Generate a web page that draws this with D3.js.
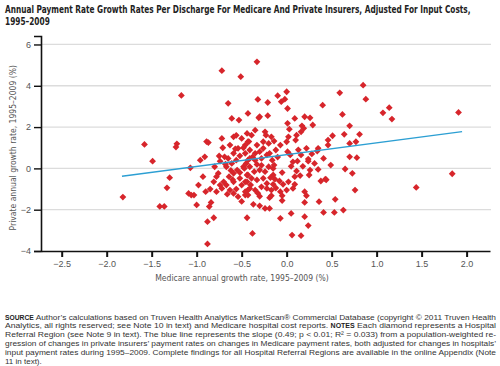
<!DOCTYPE html>
<html>
<head>
<meta charset="utf-8">
<script src="https://cdn.jsdelivr.net/npm/d3@7"></script>
<style>
  body { margin: 0; background: #fff; }
  svg { display: block; }
  text { font-family: "Liberation Sans Narrow", "DejaVu Sans Condensed", "Liberation Sans", sans-serif; }
</style>
</head>
<body>
<div id="chart"></div>
<script>
// Medicare growth (x) vs private growth (y), each point = one Hospital Referral Region
const medicare = [
  -0.72, -0.51, -1.17, -0.65, -0.61, -0.53, -0.43, -1.58, -1.22, -1.23,
  -0.89, -0.87, -1.49, -1.82, -1.30, -1.33, -1.41, -1.36, -1.07, -0.96,
  -0.91, -1.09, -1.06, -1.03, -1.00, -0.98, -0.93, -0.88, -0.88, -0.81,
  -0.86, -0.84, -0.90, -0.85, -0.81, -0.76, -0.74, -0.71, -0.72, -0.69,
  -0.63, -0.59, -0.56, -0.50, -0.44, -0.43, -0.46, -0.54, -0.59, -0.65,
  -0.67, -0.61, -0.56, -0.52, -0.46, -0.43, -0.48, -0.55, -0.59, -0.64,
  -0.70, -0.74, -0.72, -0.67, -0.63, -0.59, -0.54, -0.56, -0.50, -0.44,
  -0.43, -0.46, -0.52, -0.44, -0.44, -0.59, -0.78, -0.80,
  -0.33, 0.85, 0.88, 0.59, 0.40, -0.32, -0.21, -0.10, -0.06, 0.00,
  -0.02, 0.01, -0.31, -0.30, -0.21, 0.01, 0.09, 0.20, 0.26, 0.29,
  0.17, 0.62, 0.70, 0.64, 0.81, 1.07, 1.14, 1.17, 1.91, 1.84,
  1.44, 0.77, 0.70, 0.70, 0.78, 0.65, 0.73, 0.76, 0.63, 0.54,
  0.53, 0.41, 0.36, 0.38, 0.43, 0.44, 0.49, 0.41, 0.46, 0.46,
  0.51, 0.35, 0.34, 0.35, 0.31, 0.24, 0.22, 0.26, 0.24, 0.25,
  0.20, 0.22, 0.20, 0.20, 0.24, 0.16, 0.06, 0.05, -0.07, -0.05,
  -0.38, -0.37, -0.30, -0.24, -0.19, -0.30, -0.19, -0.17, -0.05, 0.00,
  0.07, 0.09, 0.09, 0.15, 0.11, 0.02, -0.04, -0.07, -0.08, -0.13,
  -0.15, -0.15, -0.14, -0.16, -0.19, -0.12, -0.07, 0.00, 0.02, 0.01,
  0.04, 0.07, 0.10, 0.11, 0.16, 0.19, 0.12, 0.16, -0.24, -0.23,
  -0.17, -0.14, -0.20, -0.26, -0.33, -0.39, -0.41, -0.35, -0.30, -0.26,
  -0.22, -0.28, -0.35, -0.41, -0.45, -0.47, -0.41, -0.33, -0.20, -0.24,
  -0.30, -0.36, -0.43, -0.39, -0.46, -0.33, -0.26, -0.22, -0.15, -0.17,
  -0.22, -0.28, -0.35, -0.41, -0.46, -0.43,
  -0.75, -0.68, -0.62, -0.57, -0.48, -0.38, -0.28, -0.18, -0.10, -0.05,
  0.05, 0.13, -0.60, -0.52, -0.40, -0.32, -0.12, 0.03, -0.42, -0.35,
  -0.78, -0.66, -0.50, 0.18, 0.28
];
const privateRate = [
  4.73, 4.44, 3.53, 3.15, 2.42, 2.34, 2.66, 1.16, 1.19, 1.03,
  1.30, 1.25, 0.35, -1.39, -0.45, -0.94, -1.84, -1.84, 0.03, 0.40,
  0.56, -1.21, -1.29, -1.29, -1.77, -0.81, -0.40, -2.58, -3.66, -2.39,
  -1.85, -1.65, -1.13, -1.00, -0.65, -0.24, 0.35, 1.00, 1.45, 0.56,
  1.13, 1.53, 1.60, 1.45, 1.69, 1.29, 1.13, 0.97, 0.73, 0.48,
  0.08, 0.24, 0.40, 0.61, 0.73, 0.40, 0.08, -0.08, -0.24, -0.40,
  -0.65, -0.81, -0.97, -0.81, -1.05, -1.21, -1.37, -1.00, -0.81, -0.65,
  -1.05, -1.29, -0.48, -0.32, -2.39, -0.65, -1.13, 0.08,
  5.16, 4.03, 3.35, 3.66, 3.06, 3.34, 3.19, 3.52, 3.23, 3.71,
  3.35, 2.90, 2.45, 2.50, 2.55, 2.18, 2.42, 2.50, 2.45, 2.10,
  2.06, 2.61, 2.06, 1.65, 1.65, 2.69, 2.94, 2.39, 2.71, -0.26,
  -0.92, 1.29, 1.21, 0.56, 0.52, -0.03, -0.24, -1.05, -2.02, -1.50,
  -2.13, -2.13, -1.61, -0.61, -0.52, -0.55, 0.16, 0.48, 1.37, 1.13,
  1.58, 0.97, 0.84, -0.05, 0.24, 0.45, 0.97, -0.08, 0.35, -0.32,
  -1.13, -1.32, -1.65, -2.34, -2.77, -3.26, -3.23, -2.18, -2.42, -1.56,
  -3.15, -1.74, -1.81, -1.94, -1.94, -1.35, -1.42, -1.32, -1.32, -1.05,
  -0.97, -0.77, -0.40, -0.35, -0.13, -0.65, -0.77, -1.13, -0.61, -0.52,
  -0.32, 0.00, 0.16, 0.40, 0.73, 0.89, 1.13, 1.29, 1.53, 0.81,
  0.65, 0.32, 1.37, 1.61, 1.77, 1.94, 0.35, 0.65, 1.77, 1.61,
  1.53, 1.32, 1.21, 1.29, 1.13, 1.61, 0.89, 0.73, 0.81, 0.97,
  0.65, 0.48, 0.40, 0.48, 0.24, 0.00, 0.08, 0.19, 0.08, -0.16,
  -0.08, -0.16, -0.32, -0.48, -0.65, -0.56, -0.48, -0.73, -0.77, -1.05,
  -0.97, -0.89, -1.05, -0.97, -1.13, -1.29,
  0.60, 0.20, -0.10, 0.95, 1.00, 0.55, 0.15, -0.45, 0.55, -0.20,
  0.10, 0.90, -0.55, -0.20, -0.80, -1.20, -0.95, 1.90, 1.30, 1.85,
  -0.40, -1.25, -1.60, 0.10, 0.70
];
// regression line end points
const fitX = [-1.83, 1.95];
const fitY = [-0.38, 1.78];

const xTicks = [-2.5, -2.0, -1.5, -1.0, -0.5, 0.0, 0.5, 1.0, 1.5, 2.0];
const yTicks = [-4, -2, 0, 2, 4, 6];
const gridTicks = [-2, 0, 2, 4, 6];

const titleLines = [
  "Annual Payment Rate Growth Rates Per Discharge For Medicare And Private Insurers, Adjusted For Input Costs,",
  "1995–2009"
];
const noteLines = [
  [["SOURCE", true], [" Author’s calculations based on Truven Health Analytics MarketScan® Commercial Database (copyright © 2011 Truven Health", false]],
  [["Analytics, all rights reserved; see Note 10 in text) and Medicare hospital cost reports. ", false], ["NOTES", true], [" Each diamond represents a Hospital", false]],
  [["Referral Region (see Note 9 in text). The blue line represents the slope (0.49; p < 0.01; R² = 0.033) from a population-weighted re-", false]],
  [["gression of changes in private insurers’ payment rates on changes in Medicare payment rates, both adjusted for changes in hospitals’", false]],
  [["input payment rates during 1995–2009. Complete findings for all Hospital Referral Regions are available in the online Appendix (Note", false]],
  [["11 in text).", false]]
];

const width = 500, height = 366;
const svg = d3.select("#chart").append("svg")
  .attr("width", width)
  .attr("height", height);

const x = d3.scaleLinear().domain([-2.73, 2.26]).range([41, 490]);
const y = d3.scaleLinear().domain([-4, 6.41]).range([251, 36]);

// title - squeeze horizontally so line 1 spans about 466px
const titles = svg.append("g").selectAll("text")
  .data(titleLines)
  .enter().append("text")
  .attr("font-size", 10)
  .attr("font-weight", "bold")
  .attr("fill", "#222")
  .text(d => d);
const titleScale = Math.min(1, 466 / titles.nodes()[0].getComputedTextLength());
titles.attr("transform", (d, i) => "translate(5," + (13 + i * 11.5) + ") scale(" + titleScale + ",1)");

// grid
svg.append("g").selectAll("line")
  .data(gridTicks)
  .enter().append("line")
  .attr("x1", x.range()[0]).attr("x2", 491)
  .attr("y1", d => y(d)).attr("y2", d => y(d))
  .attr("stroke", "#dcdcdc")
  .attr("stroke-width", 1.3);

// y axis
const yAxis = d3.axisLeft(y).tickValues(yTicks).tickSize(7).tickPadding(3).tickFormat(d => d < 0 ? "−" + Math.abs(d) : d);
const gy = svg.append("g")
  .attr("transform", "translate(" + x.range()[0] + ",0)")
  .call(yAxis);
gy.select(".domain").attr("stroke", "#111").attr("stroke-width", 1.6);
gy.selectAll(".tick line").attr("stroke", "#111").attr("stroke-width", 1.4);
gy.selectAll(".tick text").attr("font-size", 9).attr("fill", "#555")
  .style("font-family", "'Liberation Sans', sans-serif");

// x axis
const xAxis = d3.axisBottom(x).tickValues(xTicks).tickSize(6).tickSizeOuter(0).tickPadding(4)
  .tickFormat(d => (d < 0 ? "−" : "") + Math.abs(d).toFixed(1));
const gx = svg.append("g")
  .attr("transform", "translate(0," + y(-4) + ")")
  .call(xAxis);
gx.select(".domain").attr("stroke", "#111").attr("stroke-width", 1.6);
gx.selectAll(".tick line").attr("stroke", "#111").attr("stroke-width", 2);
gx.selectAll(".tick text").attr("font-size", 9).attr("fill", "#555")
  .style("font-family", "'Liberation Sans', sans-serif");

// axis titles
svg.append("text")
  .attr("transform", "translate(16," + y(1) + ") rotate(-90)")
  .attr("text-anchor", "middle")
  .attr("font-size", 8.5)
  .attr("fill", "#555")
  .text("Private annual growth rate, 1995–2009 (%)");

svg.append("text")
  .attr("x", 242)
  .attr("y", 281)
  .attr("text-anchor", "middle")
  .attr("font-size", 8.5)
  .attr("fill", "#555")
  .text("Medicare annual growth rate, 1995–2009 (%)");

// points
const diamond = d3.symbol().type(d3.symbolSquare).size(23);
svg.append("g").selectAll("path")
  .data(d3.range(medicare.length))
  .enter().append("path")
  .attr("d", diamond)
  .attr("transform", i => "translate(" + x(medicare[i]) + "," + y(privateRate[i]) + ") rotate(45)")
  .attr("fill", "#d7252b");

// regression line
svg.append("line")
  .attr("x1", x(fitX[0])).attr("y1", y(fitY[0]))
  .attr("x2", x(fitX[1])).attr("y2", y(fitY[1]))
  .attr("stroke", "#2c9fd3")
  .attr("stroke-width", 1.3);

// notes
const notes = svg.append("g");
noteLines.forEach((line, i) => {
  const t = notes.append("text")
    .attr("x", 5)
    .attr("y", 319.5 + i * 8.8)
    .attr("font-size", 8)
    .attr("fill", "#333")
    .style("font-family", "'Liberation Sans', sans-serif");
  if (i < noteLines.length - 1) {
    t.attr("textLength", 491).attr("lengthAdjust", "spacingAndGlyphs");
  }
  line.forEach(seg => {
    t.append("tspan")
      .attr("font-weight", seg[1] ? "bold" : null)
      .attr("font-size", seg[1] ? 6.5 : null)
      .attr("fill", seg[1] ? "#222" : null)
      .text(seg[0]);
  });
});
</script>
</body>
</html>
